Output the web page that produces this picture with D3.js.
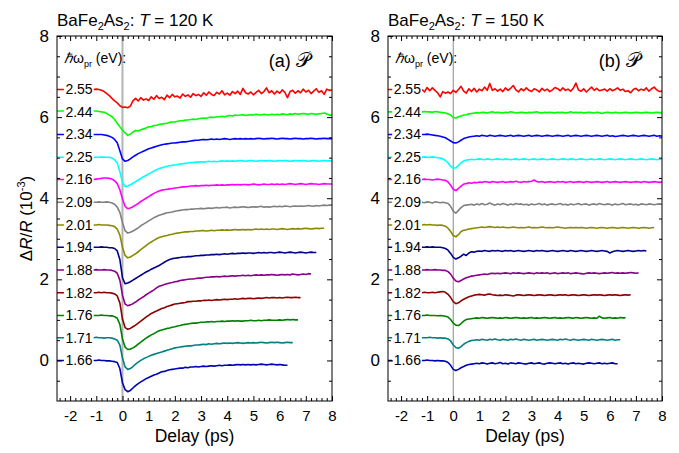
<!DOCTYPE html>
<html><head><meta charset="utf-8">
<script src="https://cdn.jsdelivr.net/npm/d3@7"></script>
<style>
body{margin:0;background:#fff}
svg text{font-family:"Liberation Sans",Arial,sans-serif;fill:#000}
</style></head><body>
<svg id="chart" width="679" height="453"></svg>
<script>
// Probe photon energies (eV), one trace each, stacked bottom to top
const energies = ["1.66","1.71","1.76","1.82","1.88","1.94","2.01","2.09","2.16","2.25","2.34","2.44","2.55"];
const colors = ["#0000b4","#008080","#008000","#8c0000","#8b008b","#000088","#8a8a00","#808080","#ff00ff","#00ffff","#0000ff","#00ff00","#ff0000"];
// Vertical offset of each trace (units of 10^-3)
const offsets = [0,0.56,1.11,1.67,2.23,2.79,3.34,3.9,4.46,5.01,5.57,6.13,6.68];
const xTickValues = [-2,-1,0,1,2,3,4,5,6,7,8];
const yTickValues = [0,2,4,6,8];
const temps = ["120","150"];
const panelTags = ["(a)","(b)"];
// Sampling: first delay (ps) and spacing (ps) of every trace
const startA = -1.1, startB = -1.2, step = 0.1;

// ΔR/R traces at T = 120 K, in units of 10^-5 (divide by 100 for 10^-3)
const a166 = [0,0,1,0,0,-1,-1,-2,-3,-5,
 -20,-55,-72,-77,-74,-68,-62,-57,-53,-49,
 -45,-42,-39,-36,-34,-31,-28,-27,-25,-23,
 -22,-21,-20,-19,-19,-17,-18,-16,-16,-15,
 -16,-15,-14,-15,-14,-13,-14,-13,-12,-13,
 -12,-12,-11,-12,-11,-10,-11,-10,-11,-10,
 -11,-10,-11,-10,-9,-10,-11,-10,-9,-10,
 -11,-10,-11,-12,-12];
const a171 = [0,1,0,0,-1,0,0,-1,-3,-6,
 -18,-50,-72,-78,-76,-71,-65,-60,-56,-52,
 -49,-46,-43,-41,-39,-37,-35,-33,-31,-29,
 -27,-25,-24,-23,-22,-21,-20,-20,-19,-18,
 -18,-17,-16,-17,-15,-16,-15,-14,-15,-14,
 -13,-14,-13,-14,-13,-12,-13,-14,-13,-12,
 -13,-12,-13,-12,-11,-12,-13,-12,-11,-12,
 -11,-12,-13,-12,-11,-12,-12];
const a176 = [0,0,0,1,0,0,-1,-1,-3,-7,
 -22,-58,-78,-84,-83,-80,-76,-71,-66,-61,
 -56,-52,-48,-45,-41,-38,-36,-34,-32,-31,
 -29,-28,-26,-25,-23,-22,-21,-20,-19,-19,
 -18,-17,-17,-16,-16,-15,-16,-15,-15,-14,
 -15,-14,-14,-13,-14,-13,-14,-14,-13,-13,
 -12,-13,-13,-12,-13,-12,-12,-11,-12,-12,
 -12,-11,-12,-11,-10,-11,-10,-11,-11];
const a182 = [0,0,1,0,1,0,0,-1,-3,-8,
 -25,-65,-86,-90,-88,-84,-80,-75,-70,-65,
 -60,-56,-51,-48,-45,-42,-39,-37,-34,-32,
 -30,-28,-27,-26,-25,-24,-22,-22,-21,-21,
 -20,-20,-19,-19,-18,-19,-18,-17,-18,-17,
 -16,-17,-16,-16,-15,-16,-15,-14,-15,-14,
 -14,-15,-14,-13,-14,-13,-12,-13,-12,-12,
 -13,-12,-13,-12,-11,-12,-12,-11,-12,-12];
const a188 = [0,1,0,0,1,0,0,-1,-3,-8,
 -25,-62,-84,-88,-86,-83,-79,-74,-70,-66,
 -61,-57,-53,-49,-44,-40,-38,-36,-34,-32,
 -31,-29,-28,-26,-25,-24,-23,-22,-22,-21,
 -20,-20,-19,-18,-18,-17,-17,-16,-17,-16,
 -15,-16,-15,-14,-15,-14,-14,-13,-14,-13,
 -14,-13,-12,-13,-12,-13,-12,-12,-11,-12,
 -13,-12,-11,-12,-11,-12,-10,-11,-12,-11,
 -10,-11,-9,-10];
const a194 = [0,0,0,1,0,0,-1,-1,-3,-9,
 -30,-75,-90,-88,-85,-81,-77,-73,-69,-65,
 -61,-58,-54,-51,-48,-45,-41,-37,-33,-30,
 -28,-27,-26,-25,-24,-24,-23,-23,-22,-21,
 -21,-20,-20,-19,-19,-18,-18,-17,-18,-17,
 -16,-17,-16,-15,-16,-15,-15,-14,-15,-14,
 -14,-15,-14,-13,-14,-13,-14,-13,-13,-14,
 -13,-12,-13,-14,-13,-12,-13,-14,-13,-12,
 -13,-14,-13,-12,-13,-13];
const a201 = [0,0,1,0,0,0,-1,-2,-4,-10,
 -25,-55,-75,-81,-79,-75,-71,-66,-61,-56,
 -51,-46,-42,-38,-34,-31,-29,-27,-26,-24,
 -23,-21,-20,-19,-18,-17,-17,-16,-16,-15,
 -15,-14,-14,-15,-14,-13,-14,-13,-13,-12,
 -13,-12,-13,-12,-11,-12,-12,-11,-12,-11,
 -12,-11,-10,-11,-10,-11,-10,-11,-10,-10,
 -11,-10,-9,-10,-11,-10,-9,-10,-9,-10,
 -9,-8,-9,-10,-9,-8,-9,-8,-8];
const a209 = [0,0,1,0,0,1,0,-2,-5,-12,
 -25,-50,-70,-76,-74,-71,-67,-63,-58,-54,
 -50,-46,-42,-38,-35,-32,-30,-28,-26,-25,
 -24,-22,-21,-20,-19,-18,-18,-17,-17,-16,
 -16,-15,-16,-15,-14,-15,-14,-13,-14,-13,
 -13,-12,-14,-13,-12,-13,-12,-11,-12,-13,
 -12,-11,-12,-11,-10,-12,-11,-12,-11,-10,
 -11,-10,-11,-9,-10,-11,-10,-9,-10,-9,
 -10,-9,-8,-9,-10,-8,-9,-8,-7,-8,
 -7,-7];
const a216 = [0,1,2,3,4,4,3,1,-3,-10,
 -25,-48,-66,-72,-70,-67,-63,-59,-54,-50,
 -46,-42,-38,-34,-31,-28,-26,-25,-24,-23,
 -22,-21,-20,-19,-18,-18,-17,-16,-16,-15,
 -16,-15,-15,-14,-15,-14,-14,-13,-14,-13,
 -14,-13,-13,-12,-13,-12,-13,-12,-12,-13,
 -12,-11,-12,-13,-12,-11,-12,-12,-11,-12,
 -11,-12,-11,-12,-11,-10,-11,-12,-11,-10,
 -11,-12,-11,-10,-11,-11,-12,-11,-10,-11,
 -11,-11];
const a225 = [0,0,0,1,0,0,0,-2,-6,-14,
 -35,-62,-72,-71,-68,-64,-60,-56,-52,-48,
 -45,-41,-38,-34,-31,-28,-26,-24,-22,-21,
 -20,-19,-18,-17,-16,-15,-14,-13,-13,-12,
 -12,-11,-12,-11,-10,-11,-10,-11,-10,-9,
 -10,-9,-10,-9,-10,-9,-8,-9,-10,-9,
 -8,-9,-10,-9,-8,-9,-9,-8,-9,-10,
 -9,-8,-9,-8,-9,-10,-9,-8,-9,-9,
 -8,-9,-10,-9,-8,-9,-10,-9,-8,-9,
 -9,-9];
const a234 = [0,0,0,0,-1,-2,-4,-7,-12,-20,
 -40,-60,-66,-64,-60,-55,-51,-47,-44,-41,
 -38,-35,-33,-31,-29,-27,-25,-24,-23,-22,
 -21,-21,-20,-19,-18,-18,-17,-16,-15,-14,
 -14,-13,-12,-13,-12,-11,-12,-11,-12,-11,
 -10,-11,-12,-11,-10,-11,-10,-11,-10,-11,
 -10,-11,-10,-9,-10,-11,-10,-10,-9,-10,
 -11,-10,-9,-10,-10,-11,-10,-9,-10,-10,
 -11,-10,-10,-9,-10,-11,-10,-10,-9,-10,
 -10,-10];
const a244 = [2,2,1,0,-1,-4,-8,-12,-19,-28,
 -37,-45,-52,-58,-55,-50,-46,-47,-44,-42,
 -40,-37,-36,-34,-33,-31,-30,-29,-28,-26,
 -25,-25,-23,-22,-22,-20,-20,-19,-18,-19,
 -17,-16,-15,-16,-14,-13,-14,-12,-12,-11,
 -12,-10,-9,-10,-8,-9,-8,-7,-9,-8,
 -7,-8,-6,-7,-8,-6,-7,-8,-6,-7,
 -6,-7,-5,-6,-7,-5,-6,-4,-6,-5,
 -4,-5,-6,-4,-5,-6,-5,-4,-3,-5,
 -8,-8];
const a255 = [0,1,0,-2,-5,-10,-15,-22,-28,-33,
 -40,-44,-43,-45,-41,-28,-22,-28,-20,-26,
 -23,-27,-18,-24,-15,-22,-19,-25,-14,-20,
 -12,-18,-16,-21,-11,-17,-13,-19,-10,-15,
 -12,-17,-8,-14,-6,-12,-15,-7,-11,-3,
 -13,-9,-14,-5,-10,-4,-12,3,-8,-11,
 -6,-13,-7,-2,-10,-5,4,-8,-3,-11,
 -4,-9,-1,-7,-20,-5,-2,-9,-3,-8,
 1,-6,-2,-10,-4,2,-7,-3,-12,1,
 -2,-1];

// ΔR/R traces at T = 150 K, in units of 10^-5
const b166 = [0,0,1,0,0,-1,0,-1,-1,-2,
 -5,-12,-22,-25,-22,-18,-15,-12,-10,-9,
 -8,-7,-8,-6,-7,-9,-7,-6,-8,-7,
 -5,-8,-7,-9,-6,-7,-8,-6,-7,-8,
 -9,-7,-6,-8,-7,-6,-8,-9,-7,-6,
 -7,-8,-7,-6,-8,-7,-9,-7,-6,-8,
 -7,-8,-9,-7,-6,-7,-8,-7,-6,-8,
 -7,-8,-7,-6,-8,-8];
const b171 = [0,0,0,1,0,0,-1,0,-1,-1,
 -3,-8,-18,-24,-26,-22,-16,-12,-9,-7,
 -6,-5,-6,-4,-5,-6,-4,-5,-3,-5,
 -6,-4,-5,-6,-4,-5,-3,-5,-6,-4,
 -5,-6,-5,-4,-6,-5,-4,-5,-6,-5,
 -4,-5,-6,-4,-5,-3,-5,-6,-4,-5,
 -6,-5,-4,-5,-6,-4,-5,-6,-5,-4,
 -5,-6,-5,-4,-6,-5,-5];
const b176 = [0,0,1,0,0,0,-1,0,-1,-2,
 -4,-10,-19,-24,-25,-20,-14,-10,-9,-8,
 -7,-6,-7,-5,-6,-7,-6,-5,-6,-7,
 -6,-7,-5,-6,-7,-6,-5,-6,-7,-6,
 -7,-6,-5,-7,-6,-7,-6,-5,-6,-7,
 -6,-5,-7,-6,-7,-6,-5,-6,-7,-5,
 -6,-7,-6,-5,-6,-7,-6,-7,-2,-6,
 -7,-6,-5,-7,-6,-7,-5,-6,-6];
const b182 = [0,1,0,0,1,0,1,2,3,1,
 -4,-12,-22,-27,-25,-20,-16,-13,-10,-8,
 -6,-5,-4,-5,-6,-4,-3,-5,-6,-7,
 -6,-7,-5,-6,-7,-8,-6,-5,-6,-7,
 -6,-5,-6,-7,-6,-5,-6,-7,-6,-5,
 -6,-7,-6,-5,-6,-5,-7,-6,-5,-6,
 -7,-6,-5,-6,-7,-6,-5,-6,-5,-6,
 -7,-6,-5,-6,-5,-6,-7,-6,-5,-6,
 -5];
const b188 = [0,0,1,0,0,1,0,0,-1,-1,
 -4,-10,-20,-27,-29,-26,-22,-19,-17,-15,
 -14,-13,-12,-11,-10,-11,-9,-8,-9,-8,
 -9,-8,-7,-8,-9,-7,-8,-7,-8,-9,
 -8,-7,-8,-9,-7,-8,-7,-8,-7,-9,
 -8,-7,-9,-8,-7,-8,-7,-9,-8,-7,
 -8,-9,-10,-8,-7,-8,-7,-8,-9,-8,
 -7,-8,-7,-6,-8,-7,-8,-7,-8,-7,
 -6,-7,-8,-7];
const b194 = [0,0,1,0,1,0,0,0,-1,-3,
 -7,-15,-25,-29,-26,-22,-17,-20,-14,-11,
 -12,-10,-9,-10,-8,-9,-10,-8,-9,-8,
 -9,-10,-8,-9,-8,-10,-9,-8,-9,-10,
 -9,-8,-9,-10,-8,-9,-8,-9,-10,-9,
 -8,-9,-10,-9,-8,-9,-10,-8,-9,-10,
 -9,-8,-9,-10,-9,-8,-9,-10,-9,-8,
 -9,-10,-14,-11,-9,-8,-9,-10,-9,-8,
 -9,-10,-9,-8,-9,-8,-9];
const b201 = [0,1,0,1,0,0,-1,0,-1,-3,
 -8,-16,-26,-29,-24,-16,-13,-12,-10,-9,
 -8,-7,-6,-5,-6,-5,-4,-5,-6,-5,
 -6,-5,-6,-7,-6,-5,-6,-7,-6,-7,
 -6,-5,-7,-6,-7,-6,-5,-6,-7,-6,
 -7,-6,-5,-6,-7,-8,-7,-6,-7,-6,
 -7,-6,-7,-8,-7,-6,-7,-8,-7,-6,
 -7,-8,-7,-6,-7,-8,-7,-6,-7,-8,
 -7,-6,-7,-8,-7,-6,-7,-8,-7,-6];
const b209 = [0,-1,1,0,-2,1,0,-1,0,-1,
 -3,-10,-22,-27,-20,-13,-8,-7,-6,-5,
 -7,-4,-6,-3,-6,-5,-2,-5,-7,-4,
 -6,-3,-5,-7,-4,-6,-3,-5,-4,-6,
 -5,-7,-4,-6,-5,-3,-6,-4,-7,-5,
 -4,-6,-5,-3,-6,-5,-7,-4,-6,-5,
 -3,-6,-5,-4,-7,-5,-4,-6,-3,-5,
 -6,-4,-5,-7,-4,-6,-5,-3,-6,-5,
 -4,-6,-5,-7,-4,-5,-6,-4,-5,-6,
 -5,-4,-5];
const b216 = [0,1,0,0,-1,0,1,0,-1,-2,
 -6,-14,-24,-27,-22,-16,-11,-10,-8,-9,
 -7,-8,-6,-7,-5,-6,-7,-5,-6,-7,
 -6,-5,-7,-6,-5,-6,-4,-6,-7,-5,
 -6,-5,-4,-1,-5,-6,-5,-7,-6,-5,
 -6,-7,-5,-6,-5,-7,-6,-5,-7,-6,
 -5,-6,-7,-5,-6,-7,-6,-5,-6,-7,
 -6,-5,-7,-6,-5,-6,-7,-6,-5,-6,
 -7,-6,-5,-6,-7,-5,-6,-7,-6,-5,
 -6,-7,-6];
const b225 = [0,1,0,0,1,0,-1,-2,-4,-8,
 -14,-22,-27,-26,-20,-14,-9,-7,-6,-5,
 -6,-5,-4,-5,-6,-4,-5,-6,-5,-4,
 -5,-6,-4,-5,-6,-5,-4,-6,-5,-4,
 -5,-6,-5,-4,-6,-5,-4,-5,-6,-5,
 -4,-5,-6,-5,-4,-5,-6,-4,-5,-6,
 -5,-4,-5,-6,-5,-4,-6,-5,-4,-5,
 -6,-5,-4,-5,-6,-5,-4,-5,-6,-5,
 -4,-5,-6,-5,-4,-5,-6,-5,-4,-5,
 -6,-5,-5];
const b234 = [0,0,1,0,-1,-2,-3,-4,-6,-8,
 -12,-16,-20,-21,-18,-14,-10,-8,-6,-5,
 -4,-3,-4,-2,-3,-4,-2,-3,-4,-3,
 -2,-3,-4,-3,-2,-4,-3,-2,-3,-4,
 -3,-2,-4,-3,-2,-3,-4,-3,-2,-3,
 -4,-3,-2,-3,-4,-3,-2,-4,-3,-2,
 -3,-4,-3,-2,-3,-4,-3,-2,-3,-4,
 -3,-2,-4,-3,-5,-4,-3,-2,-3,-4,
 -3,-2,-3,-4,-3,-2,-3,-4,-3,-2,
 -4,-3,-4];
const b244 = [0,1,0,0,-1,1,0,-1,-2,-3,
 -5,-8,-14,-15,-12,-10,-8,-7,-5,-4,
 -3,-2,-3,-1,-2,-3,-1,0,-2,-1,
 -2,-3,-1,-2,0,-1,-3,-2,-1,-2,
 -3,-1,-2,-1,0,-2,-3,-1,-2,-1,
 -2,-3,-1,-2,-1,-3,-2,0,-2,-1,
 -2,-1,-3,-2,-1,-2,-3,-1,-2,-4,
 -2,-1,-2,-3,-1,-2,-3,-2,-1,-2,
 -3,-2,-1,-2,-3,-2,-1,-2,-3,-2,
 -1,-2,-2];
const b255 = [0,-6,5,-3,4,-2,-8,-18,-5,-9,
 -6,-10,-2,-7,0,8,-4,-9,2,-5,
 3,-6,1,-3,6,-2,15,-2,2,-4,
 1,-5,4,-2,3,10,-1,-6,2,-3,
 4,-2,-5,2,-1,-6,3,-3,1,-5,
 -1,5,2,-3,4,-2,1,-4,3,16,
 -1,-4,2,-6,0,6,-2,3,-3,-1,
 1,-4,2,-3,0,4,-2,1,-5,-3,
 -8,0,3,-3,1,-2,4,-4,2,6,
 -1,-5,-4];

const seriesA = [a166,a171,a176,a182,a188,a194,a201,a209,a216,a225,a234,a244,a255];
const seriesB = [b166,b171,b176,b182,b188,b194,b201,b209,b216,b225,b234,b244,b255];

const svg = d3.select("#chart");
const yTop = 36, yBot = 401;

const panels = [
  {x0:57, x1:332, start:startA, data:seriesA, temp:temps[0], tag:panelTags[0], yTitle:true, zeroColor:"#b4b4b4", zeroWidth:2},
  {x0:388, x1:662, start:startB, data:seriesB, temp:temps[1], tag:panelTags[1], yTitle:false, zeroColor:"#8a8a8a", zeroWidth:1}
];

const xMinor = d3.range(-24, 81, 2).filter(v => v % 10 !== 0).map(v => v / 10);
const yMinor = d3.range(-1, 16).filter(v => v % 4 !== 0).map(v => v / 2);

panels.forEach((p, pi) => {
  const x = d3.scaleLinear().domain([-2.5, 8]).range([p.x0, p.x1]);
  const y = d3.scaleLinear().domain([-1, 8]).range([yBot, yTop]);
  const g = svg.append("g");

  const clipId = "clip" + pi;
  svg.append("clipPath").attr("id", clipId).append("rect")
    .attr("x", p.x0).attr("y", yTop).attr("width", p.x1 - p.x0).attr("height", yBot - yTop);

  // zero-delay marker
  g.append("line")
    .attr("x1", x(0)).attr("x2", x(0)).attr("y1", y(8)).attr("y2", y(-1))
    .attr("stroke", p.zeroColor).attr("stroke-width", p.zeroWidth);

  // traces: baseline held from the left edge up to the first sample
  const line = d3.line().x(d => x(d[0])).y(d => y(d[1]));
  const traces = g.append("g").attr("clip-path", `url(#${clipId})`);
  p.data.forEach((vals, k) => {
    const pts = [[x.domain()[0], offsets[k] + vals[0] / 100]]
      .concat(vals.map((v, i) => [p.start + i * step, offsets[k] + v / 100]));
    traces.append("path").attr("d", line(pts))
      .attr("fill", "none").attr("stroke", colors[k])
      .attr("stroke-width", 1.6).attr("stroke-linejoin", "round");
  });

  // energy labels on white backing
  const lab = g.append("g");
  energies.forEach((e, k) => {
    const t = lab.append("text")
      .attr("x", x(p.start) - 1).attr("y", y(offsets[k]))
      .attr("text-anchor", "end").attr("dy", "0.35em")
      .attr("font-size", 14).text(e);
    const bb = t.node().getBBox();
    lab.insert("rect", "text")
      .attr("x", bb.x - 1.5).attr("y", bb.y + 1)
      .attr("width", x(p.start) - bb.x + 1.5).attr("height", bb.height - 2)
      .attr("fill", "#fff");
  });

  // axes: ticks point inward on all four sides
  const bottom = g.append("g").attr("transform", `translate(0,${yBot})`);
  bottom.call(d3.axisBottom(x).tickValues(xTickValues).tickSize(-5).tickPadding(9)
    .tickFormat(d => String(d)));
  bottom.append("g").call(d3.axisBottom(x).tickValues(xMinor).tickSize(-3).tickFormat(""));
  const top = g.append("g").attr("transform", `translate(0,${yTop})`);
  top.call(d3.axisTop(x).tickValues(xTickValues).tickSize(-5).tickFormat(""));
  top.append("g").call(d3.axisTop(x).tickValues(xMinor).tickSize(-3).tickFormat(""));

  const left = g.append("g").attr("transform", `translate(${p.x0},0)`);
  left.call(d3.axisLeft(y).tickValues(yTickValues).tickSize(-5).tickPadding(8).tickFormat(d => String(d)));
  left.append("g").call(d3.axisLeft(y).tickValues(yMinor).tickSize(-3).tickFormat(""));
  const right = g.append("g").attr("transform", `translate(${p.x1},0)`);
  right.call(d3.axisRight(y).tickValues(yTickValues).tickSize(-5).tickFormat(""));
  right.append("g").call(d3.axisRight(y).tickValues(yMinor).tickSize(-3).tickFormat(""));

  g.selectAll(".domain").remove();
  g.selectAll(".tick line").attr("stroke", "#000");
  bottom.selectAll("text").attr("font-size", 15).attr("font-family", '"Liberation Sans",Arial,sans-serif');
  left.selectAll("text").attr("font-size", 17).attr("font-family", '"Liberation Sans",Arial,sans-serif');

  g.append("rect").attr("x", p.x0).attr("y", yTop)
    .attr("width", p.x1 - p.x0).attr("height", yBot - yTop)
    .attr("fill", "none").attr("stroke", "#000").attr("stroke-width", 1);

  // x-axis title
  g.append("text").attr("x", (p.x0 + p.x1) / 2).attr("y", 442)
    .attr("text-anchor", "middle").attr("font-size", 17.5).text("Delay (ps)");

  // panel title
  const tt = g.append("text").attr("x", p.x0).attr("y", 26).attr("font-size", 17);
  tt.append("tspan").text("BaFe");
  tt.append("tspan").attr("font-size", 11).attr("dy", 4).text("2");
  tt.append("tspan").attr("dy", -4).text("As");
  tt.append("tspan").attr("font-size", 11).attr("dy", 4).text("2");
  tt.append("tspan").attr("dy", -4).text(": ");
  tt.append("tspan").attr("font-style", "italic").text("T");
  tt.append("tspan").text(` = ${p.temp} K`);

  // probe-energy heading
  const hd = g.append("text").attr("x", x(-2.5) + 7).attr("y", 63).attr("font-size", 14);
  hd.append("tspan").attr("font-style", "italic").text("\u210F");
  hd.append("tspan").text("\u03C9");
  hd.append("tspan").attr("font-size", 9).attr("dy", 4).text("pr");
  hd.append("tspan").attr("dy", -4).text(" (eV):");

  // panel tag: (a)/(b) followed by script P with a small superscript mark
  const tg = g.append("text").attr("x", p.x1 - 20).attr("y", 67)
    .attr("text-anchor", "end").attr("font-size", 18);
  tg.append("tspan").text(p.tag + " ");
  tg.append("tspan").attr("font-family", '"DejaVu Sans","Noto Sans",serif')
    .attr("font-size", 20).text("\uD835\uDCAB");
  tg.append("tspan").attr("font-size", 10).attr("dy", -8).attr("dx", -1).text("\u02D9");

  // y-axis title
  if (p.yTitle) {
    const yt = g.append("text").attr("transform", `translate(32,${(yTop + yBot) / 2}) rotate(-90)`)
      .attr("text-anchor", "middle").attr("font-size", 17);
    yt.append("tspan").text("\u0394");
    yt.append("tspan").attr("font-style", "italic").text("R");
    yt.append("tspan").text("/");
    yt.append("tspan").attr("font-style", "italic").text("R");
    yt.append("tspan").text(" (10");
    yt.append("tspan").attr("font-size", 11).attr("dy", -7).text("-3");
    yt.append("tspan").attr("dy", 7).text(")");
  }
});
</script>
</body></html>
